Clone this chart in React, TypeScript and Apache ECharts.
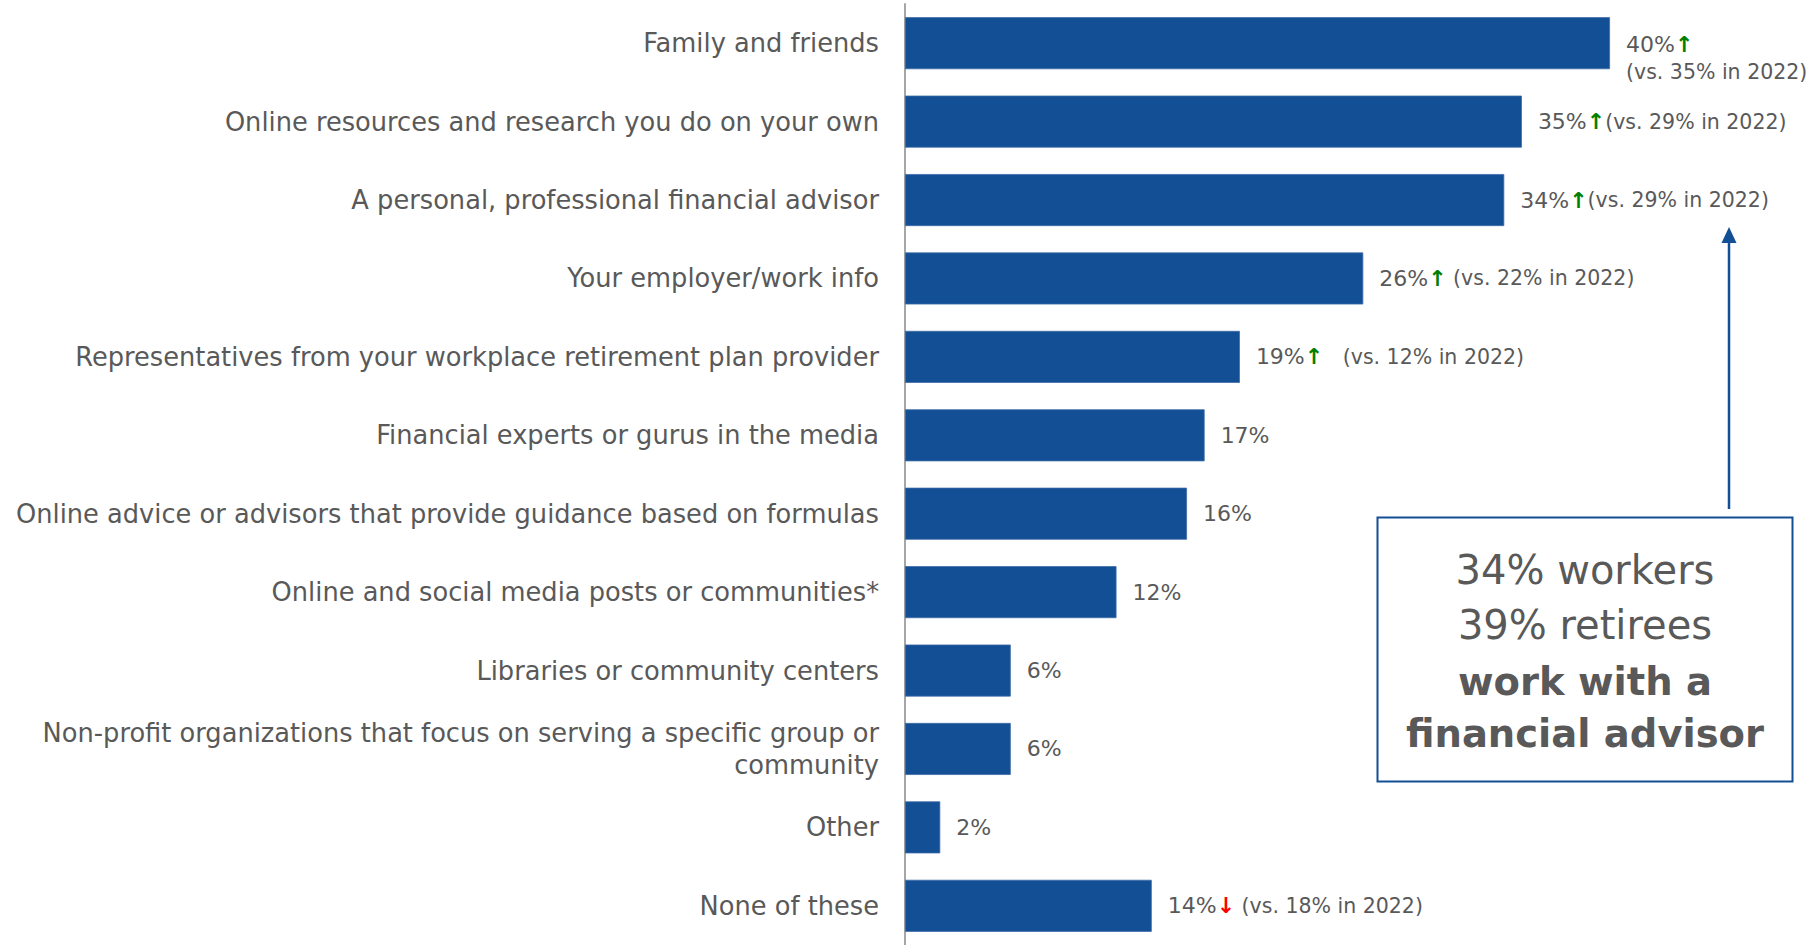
import React, { useEffect, useRef } from "react";
import * as echarts from "echarts";

const categories = [
  "Family and friends",
  "Online resources and research you do on your own",
  "A personal, professional financial advisor",
  "Your employer/work info",
  "Representatives from your workplace retirement plan provider",
  "Financial experts or gurus in the media",
  "Online advice or advisors that provide guidance based on formulas",
  "Online and social media posts or communities*",
  "Libraries or community centers",
  "Non-profit organizations that focus on serving a specific group or\ncommunity",
  "Other",
  "None of these",
];

const values2024 = [40, 35, 34, 26, 19, 17, 16, 12, 6, 6, 2, 14];
const values2022: (number | null)[] = [35, 29, 29, 22, 12, null, null, null, null, null, null, 18];

const calloutLines = ["34% workers", "39% retirees", "work with a", "financial advisor"];

// spacing between the arrow and the 2022 note
const noteGap = ["\n", "", "", " ", "   ", "", "", "", "", "", "", " "];

const FONT = "DejaVu Sans";
const BAR = "#124F94";
const TEXT = "#595959";

export default function App() {
  const ref = useRef<HTMLDivElement>(null);

  useEffect(() => {
    if (!ref.current) return;
    const chart = echarts.init(ref.current, null, { renderer: "svg" });

    const data = values2024.map((v, i) =>
      noteGap[i] === "\n" ? { value: v, label: { offset: [0, 15] } } : v
    );

    const option: any = {
      animation: false,
      grid: { left: 905, right: 196, top: 4, bottom: 0, containLabel: false },
      xAxis: {
        type: "value",
        min: 0,
        max: 40,
        show: false,
      },
      yAxis: {
        type: "category",
        inverse: true,
        data: categories,
        axisLine: { show: true, lineStyle: { color: "#A6A6A6", width: 2 } },
        axisTick: { show: false },
        splitLine: { show: false },
        axisLabel: {
          margin: 26,
          fontFamily: FONT,
          fontSize: 25.7,
          color: TEXT,
          lineHeight: 32,
        },
      },
      series: [
        {
          type: "bar",
          data,
          barWidth: 52,
          itemStyle: { color: BAR, borderColor: "#3D6CA8", borderWidth: 0.8 },
          label: {
            show: true,
            position: "right",
            distance: 16,
            fontFamily: FONT,
            fontSize: 20.5,
            color: TEXT,
            formatter: (p: any) => {
              const i = p.dataIndex;
              const v = values2024[i];
              const prev = values2022[i];
              let s = `{v|${v}%}`;
              if (prev != null) {
                const up = v > prev;
                s += up ? "{up|\u2191}" : "{down|\u2193}";
                s += noteGap[i];
                s += `{n|(vs. ${prev}% in 2022)}`;
              }
              return s;
            },
            rich: {
              v: { fontFamily: FONT, fontSize: 22, color: TEXT, lineHeight: 27 },
              up: { fontFamily: FONT, fontSize: 22, color: "#008000", fontWeight: "bold", lineHeight: 27 },
              down: { fontFamily: FONT, fontSize: 22, color: "#FF0000", fontWeight: "bold", lineHeight: 27 },
              n: { fontFamily: FONT, fontSize: 20.5, color: TEXT, lineHeight: 27 },
            },
          },
        },
      ],
      graphic: [
        {
          type: "line",
          shape: { x1: 1729, y1: 240, x2: 1729, y2: 509 },
          style: { stroke: BAR, lineWidth: 2.5 },
        },
        {
          type: "polygon",
          shape: { points: [[1729, 227], [1721.5, 243], [1736.5, 243]] },
          style: { fill: BAR },
        },
        {
          type: "rect",
          shape: { x: 1377.5, y: 517.5, width: 415, height: 264 },
          style: { fill: "#ffffff", stroke: BAR, lineWidth: 2 },
        },
        ...calloutLines.map((t, i) => ({
          type: "text",
          x: 1585,
          y: [570, 625, 681, 733][i],
          style: {
            text: t,
            fill: TEXT,
            fontFamily: FONT,
            fontSize: i < 2 ? 40 : 38.5,
            fontWeight: i < 2 ? "normal" : "bold",
            align: "center",
            verticalAlign: "middle",
          },
        })),
      ],
    };

    chart.setOption(option);
    return () => chart.dispose();
  }, []);

  return (
    <div
      ref={ref}
      style={{ position: "absolute", left: 0, top: 0, width: 1806, height: 945, background: "#fff" }}
    />
  );
}
